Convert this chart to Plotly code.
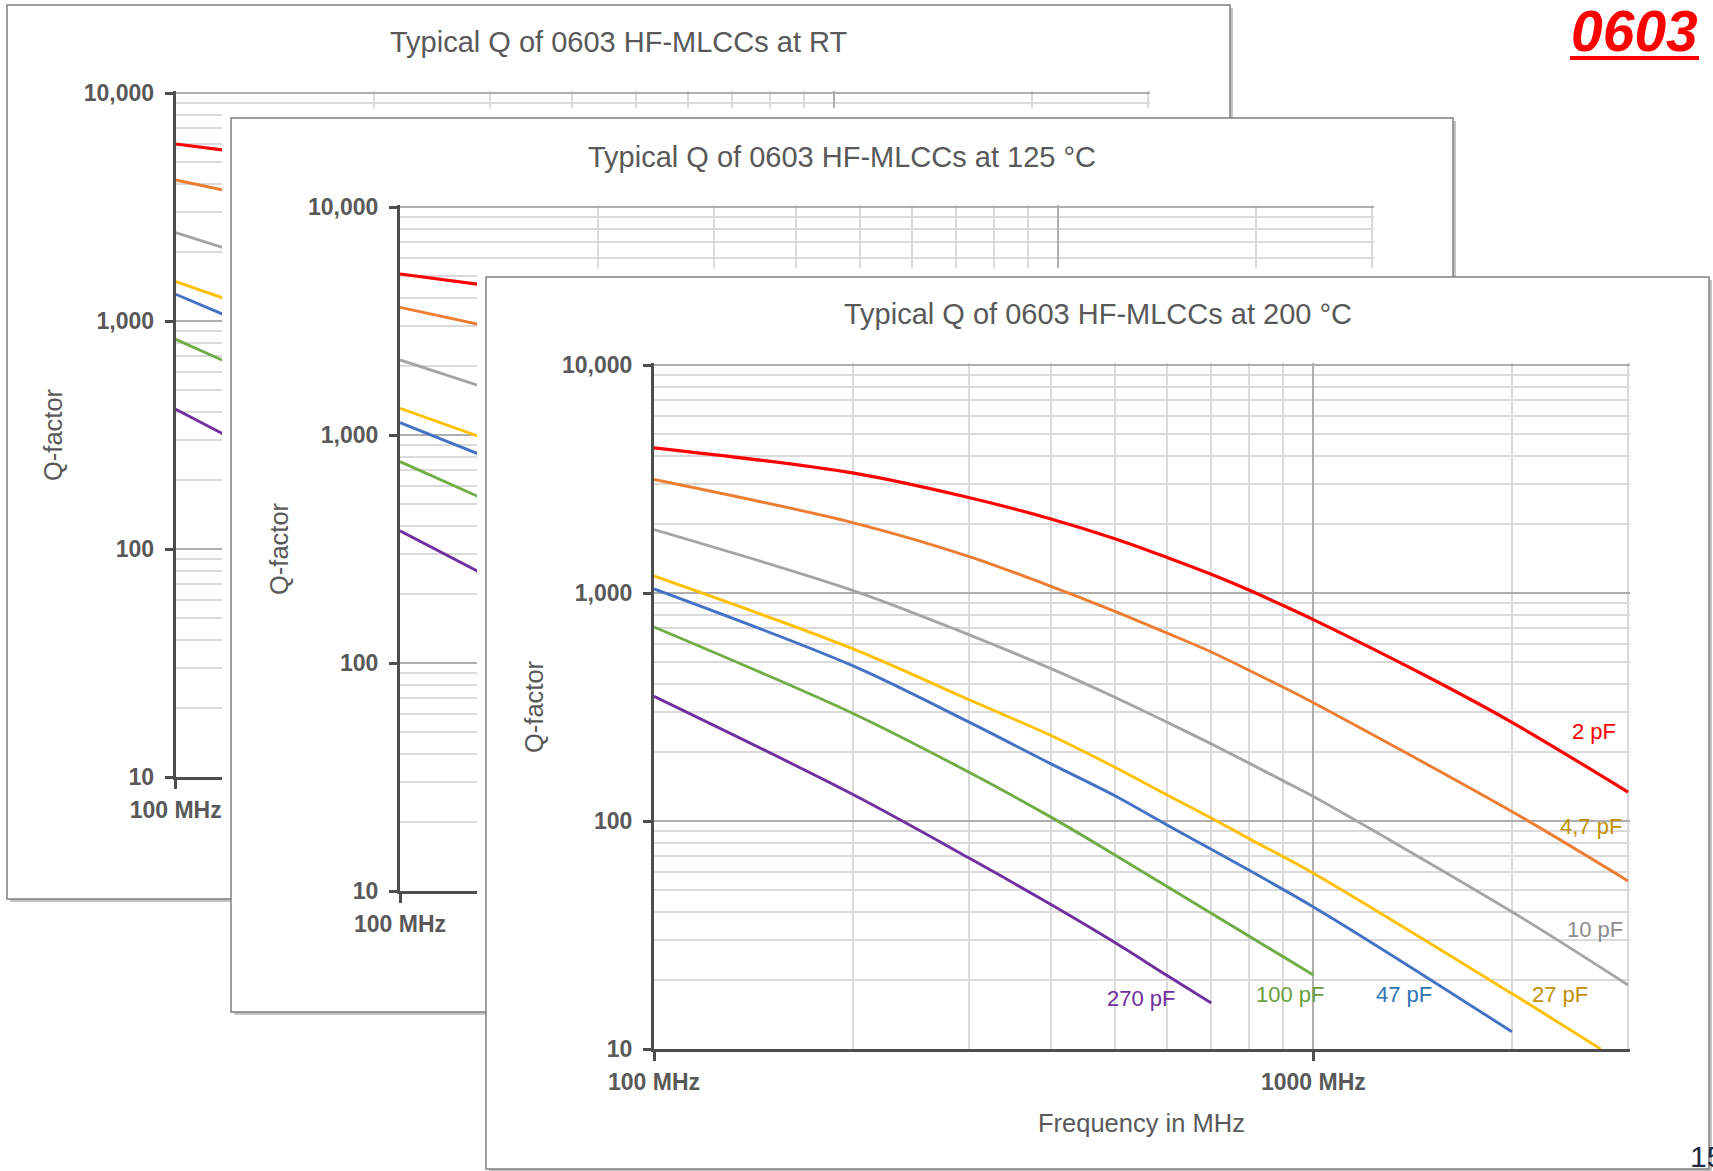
import plotly.graph_objects as go

W, H = 1713, 1171
FONT = "Liberation Sans"
TXT = "#595959"

# ---------------- data ----------------
capacitances = ["2 pF", "4,7 pF", "10 pF", "27 pF", "47 pF", "100 pF", "270 pF"]
series_colors = ["#FF0000", "#ED7D31", "#A5A5A5", "#FFC000", "#4472C4", "#70AD47", "#7030A0"]
label_colors = ["#FF0000", "#BF9000", "#8C8C8C", "#BF9000", "#2E75B6", "#6A9E3C", "#7030A0"]

# Typical Q at 200 °C (front panel), frequency in MHz
freq_200c_2pF = [100, 200, 300, 400, 500, 600, 700, 800, 900, 1000, 1500, 2000, 3000]
q_200c_2pF = [4335, 3365, 2624, 2113, 1731, 1432, 1208, 1028, 881, 764, 425, 271, 134]
freq_200c_4p7pF = [100, 200, 300, 400, 500, 600, 700, 800, 900, 1000, 2000, 3000]
q_200c_4p7pF = [3148, 2037, 1449, 1070, 831, 667, 551, 457, 386, 330, 110, 54.6]
freq_200c_10pF = [100, 200, 300, 400, 500, 600, 700, 800, 900, 1000, 2000, 3000]
q_200c_10pF = [1898, 1028, 657, 466, 349, 271, 218, 179, 150, 128, 40, 19.1]
freq_200c_27pF = [100, 200, 300, 400, 500, 600, 700, 800, 1000, 2000, 2727]
q_200c_27pF = [1188, 570, 341, 237, 172, 130, 103, 83.5, 59, 17.5, 10]
freq_200c_47pF = [100, 200, 300, 400, 500, 600, 1000, 2000]
q_200c_47pF = [1042, 480, 272, 178, 129, 96, 42, 11.9]
freq_200c_100pF = [100, 200, 300, 400, 500, 1000]
q_200c_100pF = [709, 297, 164, 104, 71, 21.1]
freq_200c_270pF = [100, 200, 300, 400, 500, 600, 700]
q_200c_270pF = [352, 131, 69, 43, 29.3, 21.0, 15.9]

freq_200c = [freq_200c_2pF, freq_200c_4p7pF, freq_200c_10pF, freq_200c_27pF,
             freq_200c_47pF, freq_200c_100pF, freq_200c_270pF]
q_200c = [q_200c_2pF, q_200c_4p7pF, q_200c_10pF, q_200c_27pF,
          q_200c_47pF, q_200c_100pF, q_200c_270pF]

# Back panels (only their start near 100 MHz is visible)
freq_back = [100, 200]
q_rt_at_100 = [5975, 4152, 2441, 1488, 1310, 831, 410]
q_rt_at_200 = [4620, 2717, 1297, 747, 561, 340, 145]
q_125c_at_100 = [5083, 3630, 2133, 1310, 1132, 764, 380]
q_125c_at_200 = [3908, 2360, 1112, 641, 511, 313, 134]

y_tick_vals = [10, 100, 1000, 10000]
y_tick_text = ["10", "100", "1,000", "10,000"]
x_tick_vals = [100, 1000]
x_tick_text = ["100 MHz", "1000 MHz"]
y_minor_vals = [20, 30, 40, 50, 60, 70, 80, 90, 200, 300, 400, 500, 600, 700, 800, 900,
                2000, 3000, 4000, 5000, 6000, 7000, 8000, 9000]
x_minor_vals = [200, 300, 400, 500, 600, 700, 800, 900, 2000, 3000]

titles = ["Typical Q of 0603 HF-MLCCs at RT",
          "Typical Q of 0603 HF-MLCCs at 125 °C",
          "Typical Q of 0603 HF-MLCCs at 200 °C"]

# ---------------- geometry helpers (pixels -> paper) ----------------
def xdom(a, b):
    return [a / W, b / W]


def ydom(top, bottom):
    return [1 - bottom / H, 1 - top / H]


LOG3000 = 3.4771213
EXT = 2.0  # px so the edge grid lines are drawn

GRID_MAJOR = "#AEAEAE"
GRID_MINOR = "#DADADA"
AXIS = "#4D4D4D"
tickfont = dict(family=FONT, size=23, color=TXT, weight="bold")


def y_axis(domain, rng, anchor, labelled):
    d = dict(type="log", domain=domain, range=rng, anchor=anchor,
             tickmode="array", tickvals=y_tick_vals, ticktext=y_tick_text,
             showgrid=True, gridcolor=GRID_MAJOR, gridwidth=1.5,
             minor=dict(tickmode="array", tickvals=y_minor_vals, showgrid=True,
                        gridcolor=GRID_MINOR, gridwidth=1.5, ticks=""),
             zeroline=False, fixedrange=True)
    if labelled:
        d.update(showline=True, linecolor=AXIS, linewidth=3, ticks="outside",
                 ticklen=8, tickwidth=3, tickcolor=AXIS, showticklabels=True,
                 tickfont=tickfont, ticklabelstandoff=6)
    else:
        d.update(showline=False, ticks="", showticklabels=False)
    return d


def x_axis(domain, rng, anchor, labelled):
    d = dict(type="log", domain=domain, range=rng, anchor=anchor,
             tickmode="array", tickvals=x_tick_vals, ticktext=x_tick_text,
             showgrid=True, gridcolor=GRID_MAJOR, gridwidth=1.5,
             minor=dict(tickmode="array", tickvals=x_minor_vals, showgrid=True,
                        gridcolor=GRID_MINOR, gridwidth=1.5, ticks=""),
             zeroline=False, fixedrange=True)
    if labelled:
        d.update(showline=True, linecolor=AXIS, linewidth=3, ticks="outside",
                 ticklen=9, tickwidth=3, tickcolor=AXIS, showticklabels=True,
                 tickfont=tickfont, ticklabelstandoff=1)
    else:
        d.update(showline=False, ticks="", showticklabels=False)
    return d


# panel 1 (RT): y axis at 175.7 px, 10,000 at 93 px, 10 at 777 px, 658 px / decade
p1_x0, p1_x1, p1_top, p1_bot, p1_dec = 175.7, 1148.0, 93.0, 777.0, 658.2
p1_strip_right = 222.0
p1_strip_bottom = 108.0
# panel 2 (125 °C)
p2_x0, p2_x1, p2_top, p2_bot, p2_dec = 400.0, 1372.0, 207.0, 891.0, 658.0
p2_strip_right = 477.0
p2_strip_bottom = 268.0
# panel 3 (200 °C)
p3_x0, p3_x1, p3_top, p3_bot, p3_dec = 654.0, 1628.0, 365.0, 1049.0, 659.4
YDEC = 228.0

layout_axes = dict(
    # panel 1 left strip
    xaxis=x_axis(xdom(p1_x0, p1_strip_right), [2, 2 + (p1_strip_right - p1_x0) / p1_dec], "y", True),
    yaxis=y_axis(ydom(p1_top - EXT, p1_bot), [1, 4 + EXT / YDEC], "x", True),
    # panel 1 top strip
    xaxis2=x_axis(xdom(p1_x0, p1_x1 + EXT), [2, LOG3000 + EXT / p1_dec], "y2", False),
    yaxis2=y_axis(ydom(p1_top - EXT, p1_strip_bottom),
                  [4 - (p1_strip_bottom - p1_top) / YDEC, 4 + EXT / YDEC], "x2", False),
    # panel 2 left strip
    xaxis3=x_axis(xdom(p2_x0, p2_strip_right), [2, 2 + (p2_strip_right - p2_x0) / p2_dec], "y3", True),
    yaxis3=y_axis(ydom(p2_top - EXT, p2_bot), [1, 4 + EXT / YDEC], "x3", True),
    # panel 2 top strip
    xaxis4=x_axis(xdom(p2_x0, p2_x1 + EXT), [2, LOG3000 + EXT / p2_dec], "y4", False),
    yaxis4=y_axis(ydom(p2_top - EXT, p2_strip_bottom),
                  [4 - (p2_strip_bottom - p2_top) / YDEC, 4 + EXT / YDEC], "x4", False),
    # panel 3 full chart
    xaxis5=x_axis(xdom(p3_x0, p3_x1 + EXT), [2, LOG3000 + EXT / p3_dec], "y5", True),
    yaxis5=y_axis(ydom(p3_top - EXT, p3_bot), [1, 4 + EXT / YDEC], "x5", True),
)

fig = go.Figure()

# ---------------- traces ----------------
for i, cap in enumerate(capacitances):
    w = 3.2 if i == 0 else 2.9
    rt = [q_rt_at_100[i], q_rt_at_200[i]]
    hot = [q_125c_at_100[i], q_125c_at_200[i]]
    # RT panel: left strip and top strip (same series, clipped by each strip)
    for xa, ya in (("x", "y"), ("x2", "y2")):
        fig.add_trace(go.Scatter(x=freq_back, y=rt, mode="lines", name=cap + " RT",
                                 line=dict(color=series_colors[i], width=w),
                                 xaxis=xa, yaxis=ya, hoverinfo="skip"))
    # 125 °C panel
    for xa, ya in (("x3", "y3"), ("x4", "y4")):
        fig.add_trace(go.Scatter(x=freq_back, y=hot, mode="lines", name=cap + " 125 °C",
                                 line=dict(color=series_colors[i], width=w),
                                 xaxis=xa, yaxis=ya, hoverinfo="skip"))
    # 200 °C panel
    fig.add_trace(go.Scatter(x=freq_200c[i], y=q_200c[i], mode="lines", name=cap,
                             line=dict(color=series_colors[i], width=w,
                                       shape="spline", smoothing=0.9),
                             xaxis="x5", yaxis="y5"))

# ---------------- panels (backgrounds, borders, shadows) ----------------
panels = [(7, 5, 1230, 899), (231, 118, 1453, 1012), (486, 277, 1709, 1169)]
shapes = []
for (x0, y0, x1, y1) in panels:
    shapes.append(dict(type="rect", xref="paper", yref="paper", layer="below",
                       x0=(x0 + 3) / W, x1=(x1 + 3) / W, y0=1 - (y1 + 3) / H, y1=1 - (y0 + 3) / H,
                       fillcolor="#C4C4C4", line=dict(width=0)))
    shapes.append(dict(type="rect", xref="paper", yref="paper", layer="below",
                       x0=x0 / W, x1=x1 / W, y0=1 - y1 / H, y1=1 - y0 / H,
                       fillcolor="white", line=dict(color="#7F7F7F", width=1.5)))
# underline of the "0603" tag
shapes.append(dict(type="line", xref="paper", yref="paper", layer="above",
                   x0=1570 / W, x1=1699 / W, y0=1 - 58 / H, y1=1 - 58 / H,
                   line=dict(color="#FF0000", width=4)))


def ann(text, px, py, size, color, angle=0, xanchor="center", weight="normal", style="normal"):
    return dict(text=text, x=px / W, y=1 - py / H, xref="paper", yref="paper",
                showarrow=False, xanchor=xanchor, yanchor="middle", textangle=angle,
                font=dict(family=FONT, size=size, color=color, weight=weight, style=style))


annotations = [
    ann(titles[0], 618.5, 42.5, 29, TXT),
    ann(titles[1], 842.0, 157.0, 29, TXT),
    ann(titles[2], 1097.5, 314.5, 29, TXT),
    ann("Q-factor", 53, (p1_top + p1_bot) / 2, 25.5, TXT, angle=-90),
    ann("Q-factor", 279, (p2_top + p2_bot) / 2, 25.5, TXT, angle=-90),
    ann("Q-factor", 534, (p3_top + p3_bot) / 2, 25.5, TXT, angle=-90),
    ann("Frequency in MHz", (p3_x0 + p3_x1) / 2, 1123, 25.5, TXT),
    ann("0603", 1634.5, 31, 57, "#FF0000", weight="bold", style="italic"),
    ann("15", 1688, 1156, 30, "#1F2A44", xanchor="left"),
]

# curve labels on the 200 °C chart (pixel positions)
label_pos = [(1594, 731), (1591, 826), (1594.5, 929), (1560, 994),
             (1404, 994), (1290, 994), (1141.5, 998)]
for cap, col, (px, py) in zip(capacitances, label_colors, label_pos):
    annotations.append(ann(cap, px, py, 22, col))

fig.update_layout(
    width=W, height=H, margin=dict(l=0, r=0, t=0, b=0),
    template="none", showlegend=False,
    paper_bgcolor="white", plot_bgcolor="rgba(0,0,0,0)",
    font=dict(family=FONT, color=TXT),
    shapes=shapes, annotations=annotations,
    **layout_axes,
)

fig.write_html("out.html")
